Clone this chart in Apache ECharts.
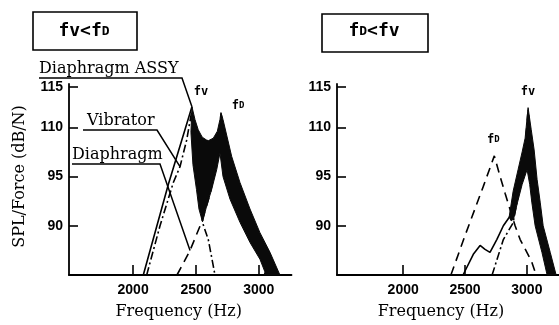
<!DOCTYPE html>
<html><head><meta charset="utf-8">
<script src="https://cdn.jsdelivr.net/npm/echarts@6/dist/echarts.min.js"></script>
<style>html,body{margin:0;padding:0;background:#fff}#c{width:559px;height:325px}</style>
</head><body><div id="c"></div>
<script>
// ---------------- data ----------------
const xTicks = [2000, 2500, 3000];
// the printed y scale is not linear: tick marks sit at these plot positions
const yTickPos = [90, 95, 100, 104.1];
const yTickLabels = ['90', '95', '110', '115'];

// Left panel: fv < fD   ([frequency Hz, level in plot units])
const assyLineL = [[2081,85],[2280,94.2],[2468,102.1]];
const assyBandL = [
  [2468,102.1],[2492,100.8],[2518,99.75],[2550,99.0],[2585,98.7],[2600,98.65],[2638,98.9],[2670,99.6],[2691,100.8],[2699,101.5],
  [2715,100.8],[2784,97.05],[2850,94.4],[2930,91.7],[3009,89.3],[3089,87.3],[3168,85],
  [3041,85],[3049,85.3],[3009,86.6],[2930,88.3],[2850,90.35],[2771,92.7],[2715,95.0],[2691,97.4],
  [2665,95.7],[2625,93.7],[2585,92.0],[2552,90.4],
  [2524,91.7],[2504,93.7],[2476,96.2],[2460,99.5]
];
const vibL = [[2108,85],[2214,90],[2320,94.4],[2373,96.0],[2426,98.7],[2466,101.6],[2490,97.5],[2525,93.0],[2558,90.1],[2598,88.6],[2638,85.9],[2651,85]];
const diaL = [[2349,85],[2453,87.5],[2546,90.4],[2612,93.2],[2660,96.2],[2683,98.7],[2699,101.4],[2723,99.7],[2787,96.2],[2890,92.2],[3009,88.6],[3129,85.6],[3153,85]];

// Right panel: fD < fv
const assyLineR = [[2484,85],[2567,87.1],[2622,88.0],[2662,87.6],[2702,87.3],[2757,88.6],[2810,90.0],[2865,91.0]];
const assyBandR = [
  [2857,90.9],[2889,93.5],[2929,95.7],[2962,97.5],[2986,98.9],[3010,102.0],
  [3035,99.8],[3059,97.7],[3083,94.7],[3108,92.4],[3132,90.0],[3189,87.3],[3237,85],
  [3164,85],[3122,87.3],[3067,90.0],[3040,92.4],[3023,94.2],[3002,95.7],
  [2962,94.2],[2925,92.4],[2893,90.7],[2873,90.5]
];
const vibR = [[2719,85],[2810,88.6],[2889,90.3],[2950,94.5],[2990,98.5],[3010,101.8],[3040,97.5],[3080,93],[3120,89.5],[3172,85]];
const diaR = [[2386,85],[2500,89.0],[2648,94.0],[2737,97.1],[2784,95.0],[2824,93.3],[2905,90.0],[2946,88.6],[3013,87.0],[3040,86.3],[3075,85]];

// annotation texts and the data points they point at
const legendNotes = [
  {text:'Diaphragm ASSY', anchor:[2468,102.1]},
  {text:'Vibrator', anchor:[2373,96.0]},
  {text:'Diaphragm', anchor:[2453,87.5]}
];
const peakNotes = [
  {grid:0, label:'{a|fv}', anchor:[2468,102.1]},
  {grid:0, label:'{a|f}{b|D}', anchor:[2699,101.5]},
  {grid:1, label:'{a|fv}', anchor:[3010,102.0]},
  {grid:1, label:'{a|f}{b|D}', anchor:[2737,97.1]}
];
const panelTitles = ['{a|fv<f}{b|D}', '{a|f}{b|D}{a|<fv}'];

// ---------------- chart ----------------
const BLACK = '#000';
const serif = 'DejaVu Serif';
const chart = echarts.init(document.getElementById('c'), null, {renderer:'canvas'});

function xAxis(idx, min, pad) {
  return {
    type:'value', gridIndex:idx, min:min, max:3260,
    name:'Frequency (Hz)', nameLocation:'middle', nameGap:29,
    nameTextStyle:{fontFamily:serif, fontSize:16, color:BLACK, padding:pad},
    axisLine:{show:true, onZero:false, lineStyle:{color:BLACK, width:1.8}},
    axisTick:{show:true, inside:true, length:10, customValues:xTicks, lineStyle:{color:BLACK, width:1.6}},
    axisLabel:{customValues:xTicks, margin:8, fontFamily:'Liberation Sans', fontSize:14, fontWeight:'bold', color:BLACK,
      formatter:function(v){return String(Math.round(v));}},
    splitLine:{show:false}
  };
}
function yAxis(idx, withName) {
  const ax = {
    type:'value', gridIndex:idx, min:85, max:104.4,
    axisLine:{show:true, onZero:false, lineStyle:{color:BLACK, width:1.8}},
    axisTick:{show:true, inside:true, length:9, customValues:yTickPos, lineStyle:{color:BLACK, width:1.6}},
    axisLabel:{customValues:yTickPos, margin:6, fontFamily:'Liberation Sans', fontSize:14, fontWeight:'bold', color:BLACK,
      formatter:function(v){let b=0;for(let i=1;i<yTickPos.length;i++){if(Math.abs(yTickPos[i]-v)<Math.abs(yTickPos[b]-v))b=i;}return yTickLabels[b];}},
    splitLine:{show:false}
  };
  if (withName) {
    ax.name = 'SPL/Force (dB/N)';
    ax.nameLocation = 'middle';
    ax.nameGap = 41;
    ax.nameTextStyle = {fontFamily:serif, fontSize:16, color:BLACK, padding:[0,0,0,6]};
  }
  return ax;
}
function line(idx, data, type, z) {
  return {type:'line', xAxisIndex:idx, yAxisIndex:idx, data:data, symbol:'none', showSymbol:false,
    lineStyle:{color:BLACK, width:1.6, type:type}, z:z, silent:true, animation:false};
}
function band(idx, poly) {
  return {type:'custom', xAxisIndex:idx, yAxisIndex:idx, z:5, silent:true, animation:false,
    data:[poly[0]],
    renderItem:function(params, api){
      return {type:'polygon', shape:{points:poly.map(p=>api.coord(p))},
        style:{fill:'#0a0a0a', stroke:'#0a0a0a', lineWidth:1}};
    }};
}

chart.setOption({
  animation:false,
  backgroundColor:'#fff',
  grid:[
    {left:69, top:84, width:222.5, height:192},
    {left:337, top:84, width:222, height:192}
  ],
  xAxis:[xAxis(0, 1490, [0,3,0,0]), xAxis(1, 1465, [0,14,0,0])],
  yAxis:[yAxis(0, true), yAxis(1, false)],
  series:[
    line(0, vibL, [8,3,2,3], 3),
    line(0, diaL, [9,6], 3),
    line(0, assyLineL, 'solid', 4),
    band(0, assyBandL),
    line(1, vibR, [8,3,2,3], 3),
    line(1, diaR, [9,6], 3),
    line(1, assyLineR, 'solid', 4),
    band(1, assyBandR)
  ]
});

// ---------------- annotations ----------------
function px(grid, p){ return chart.convertToPixel({gridIndex:grid}, p); }
const mono = 'DejaVu Sans Mono';
const titleRich = {a:{fontFamily:mono, fontWeight:'bold', fontSize:18, fill:BLACK},
                   b:{fontFamily:mono, fontWeight:'bold', fontSize:13, fill:BLACK}};
const peakRich = {a:{fontFamily:mono, fontWeight:'bold', fontSize:12, fill:BLACK},
                  b:{fontFamily:mono, fontWeight:'bold', fontSize:9, fill:BLACK}};
const g = [];
// panel title boxes
[[33,12,104,38],[322,14,106,38]].forEach((r,i)=>{
  g.push({type:'rect', shape:{x:r[0], y:r[1], width:r[2], height:r[3]}, style:{fill:'none', stroke:BLACK, lineWidth:1.6}, silent:true});
  g.push({type:'text', x:r[0]+r[2]/2-1, y:31.5, style:{text:panelTitles[i], rich:titleRich, align:'center', verticalAlign:'middle'}, silent:true});
});
// callouts with underline + leader line
const noteLayout = [
  {x:39, y:69, under:[39,182,78]},
  {x:87, y:121, under:[83,157,130]},
  {x:72, y:154.5, under:[72,160,164]}
];
legendNotes.forEach((n,i)=>{
  const L = noteLayout[i];
  const a = px(0, n.anchor);
  g.push({type:'text', x:L.x, y:L.y, style:{text:n.text, fontFamily:serif, fontSize:16, fill:BLACK, align:'left', verticalAlign:'middle'}, silent:true});
  g.push({type:'polyline', shape:{points:[[L.under[0],L.under[2]],[L.under[1],L.under[2]],a]}, style:{stroke:BLACK, lineWidth:1.5, fill:'none'}, silent:true});
});
// peak labels
const peakOffset = [[9,-15],[17,-7],[0,-16],[-1,-16]];
peakNotes.forEach((n,i)=>{
  const a = px(n.grid, n.anchor);
  g.push({type:'text', x:a[0]+peakOffset[i][0], y:a[1]+peakOffset[i][1],
    style:{text:n.label, rich:peakRich, align:'center', verticalAlign:'middle'}, silent:true});
});
chart.setOption({graphic:g});
</script></body></html>
